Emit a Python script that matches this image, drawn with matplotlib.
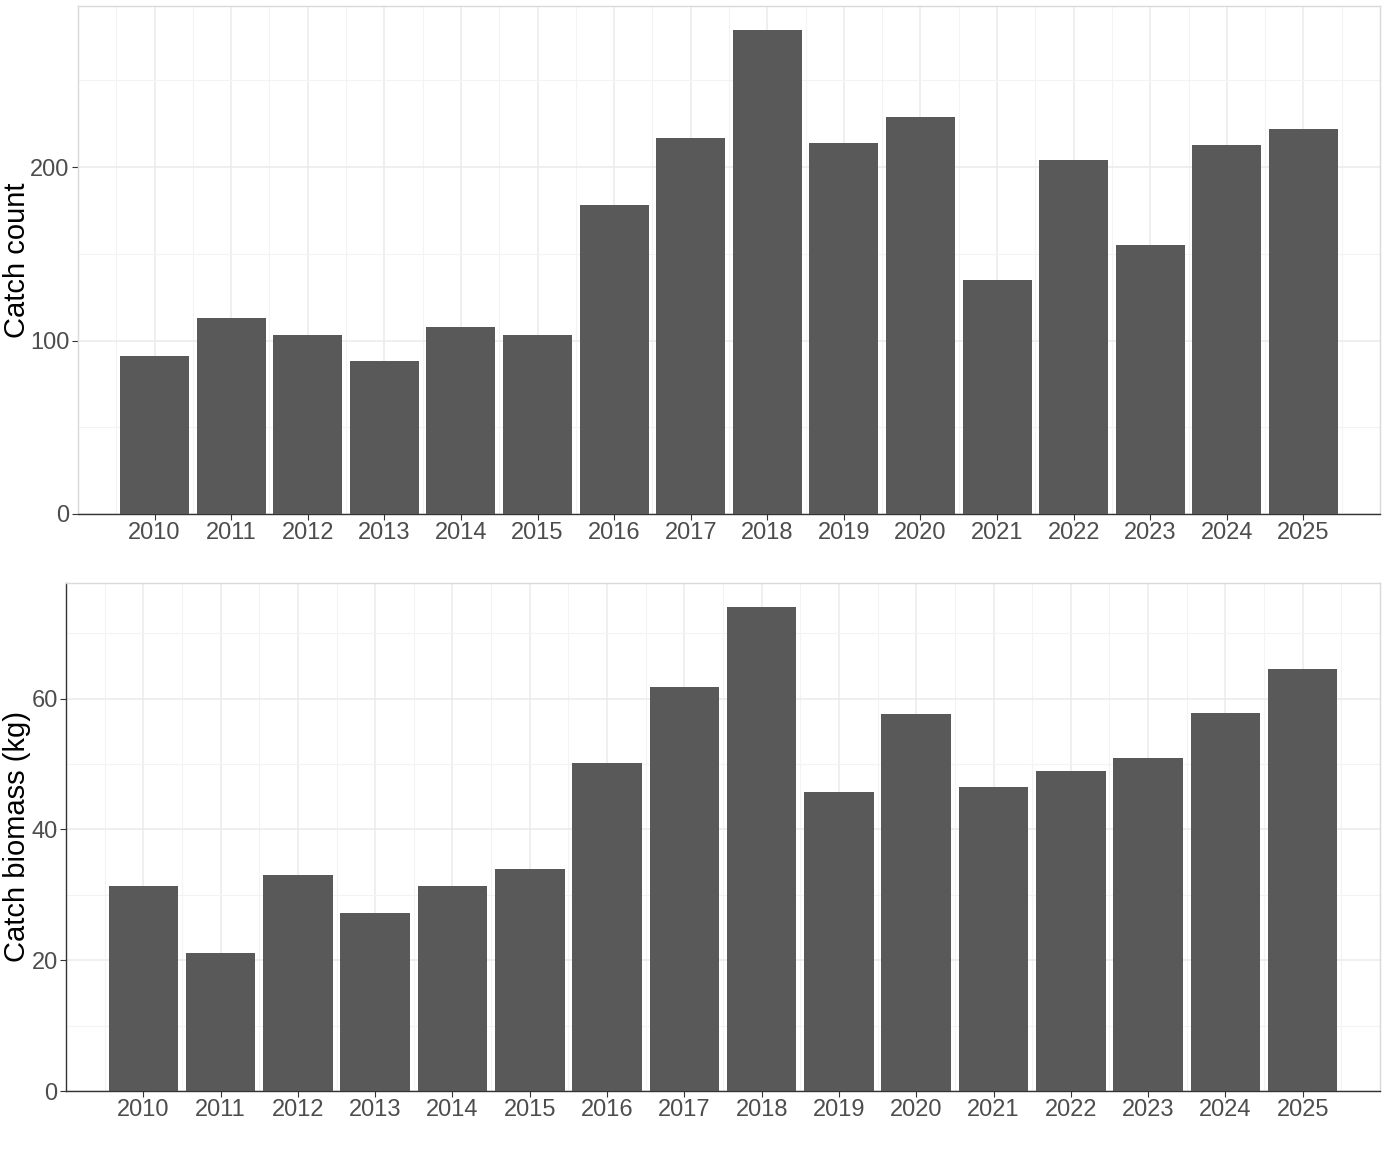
import matplotlib
matplotlib.use("Agg")
import matplotlib.pyplot as plt
import numpy as np

plt.rcParams['font.family'] = ['Liberation Sans', 'DejaVu Sans']

# Data
years = list(range(2010, 2026))
catch_count = [91, 113, 103, 88, 108, 103, 178, 217, 279, 214, 229, 135, 204, 155, 213, 222]
catch_biomass = [31.3, 21.1, 33.1, 27.3, 31.4, 34.0, 50.2, 61.8, 74.0, 45.7, 57.7, 46.5, 48.9, 50.9, 57.8, 64.6]

BAR = "#595959"
GRID_MAJ = "#ebebeb"
GRID_MIN = "#f3f3f3"
BORDER = "#d9d9d9"
AXIS = "#333333"
TICK_TXT = "#4d4d4d"

fig = plt.figure(figsize=(13.86, 11.54), dpi=100)
ax1 = fig.add_axes([78 / 1386, 1 - 514 / 1154, 1302 / 1386, 508 / 1154])
ax2 = fig.add_axes([66 / 1386, 1 - 1091 / 1154, 1314 / 1386, 508 / 1154])


def style_panel(ax, values, ylabel, yticks, yminor, left_dark):
    ax.bar(years, values, width=0.9, color=BAR, zorder=3)
    ax.set_xlim(2009, 2026)
    ax.set_ylim(0, max(values) * 1.05)
    ax.set_xticks(years)
    ax.set_xticklabels([str(y) for y in years])
    ax.set_xticks([y + 0.5 for y in range(2009, 2026)], minor=True)
    ax.set_yticks(yticks)
    ax.set_yticks(yminor, minor=True)
    ax.grid(which='major', color=GRID_MAJ, linewidth=1.1, zorder=0)
    ax.grid(which='minor', color=GRID_MIN, linewidth=0.8, zorder=0)
    ax.set_axisbelow(True)
    ax.tick_params(which='major', length=4, width=0.8, color=AXIS,
                   labelsize=17, labelcolor=TICK_TXT, pad=2)
    ax.tick_params(which='minor', length=0)
    for side in ['top', 'right']:
        ax.spines[side].set_color(BORDER)
        ax.spines[side].set_linewidth(1.0)
    ax.spines['bottom'].set_color(AXIS)
    ax.spines['bottom'].set_linewidth(1.0)
    ax.spines['left'].set_color(AXIS if left_dark else BORDER)
    ax.spines['left'].set_linewidth(1.0)
    ax.set_ylabel(ylabel, fontsize=21, color='black')


style_panel(ax1, catch_count, 'Catch count', [0, 100, 200], [50, 150, 250], False)
style_panel(ax2, catch_biomass, 'Catch biomass (kg)', [0, 20, 40, 60], [10, 30, 50, 70], True)

ax1.yaxis.set_label_coords(-(78 - 31) / 1302, 0.5)
ax2.yaxis.set_label_coords(-(66 - 31) / 1314, 0.5)

fig.savefig("out.png", dpi=100)
